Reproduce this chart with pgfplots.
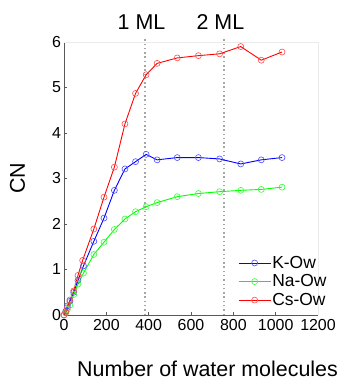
\documentclass[border=0pt]{standalone}
\usepackage{fontspec}
\setmainfont{Liberation Sans}
\usepackage{pgfplots}
\pgfplotsset{compat=1.18}
\usepackage{pgfplotstable}
\pgfplotstableread{
x y
0 0
8 0.08
16 0.20
28 0.30
46 0.50
66 0.76
92 1.08
141 1.62
189 2.13
238 2.74
288 3.21
338 3.37
388 3.53
440 3.41
535 3.46
635 3.46
735 3.43
835 3.32
932 3.41
1030 3.46
}\Kdata
\pgfplotstableread{
x y
0 0
8 0.05
16 0.12
28 0.22
46 0.45
66 0.68
92 0.92
141 1.33
189 1.60
238 1.88
288 2.11
338 2.27
388 2.38
440 2.47
535 2.60
635 2.67
735 2.71
835 2.74
932 2.76
1030 2.81
}\Nadata
\pgfplotstableread{
x y
0 0
8 0.05
16 0.16
28 0.33
46 0.53
66 0.87
88 1.20
141 1.89
189 2.59
238 3.25
288 4.20
338 4.87
388 5.28
440 5.53
535 5.65
635 5.70
735 5.74
835 5.90
932 5.60
1030 5.78
}\Csdata
\begin{document}
\begin{tikzpicture}
\path[use as bounding box] (-64bp,-66bp) rectangle (285bp,315bp);
\begin{axis}[
  scale only axis,
  width=254bp, height=273bp,
  xmin=0, xmax=1200, ymin=0, ymax=6,
  xtick={0,200,...,1200}, ytick={0,1,...,6},
  axis lines=left,
  axis line style={-, black!65, line width=0.6pt},
  tick style={black!65, line width=0.6pt},
  tick align=inside,
  major tick length=3bp,
  clip=false,
  /pgf/number format/assume math mode=true,
  /pgf/number format/1000 sep={},
  tick label style={font=\fontsize{16}{16}\selectfont},
  xticklabel style={yshift=-0.5bp},
  yticklabel style={xshift=0.5bp},
  xlabel={Number of water molecules},
  ylabel={CN},
  label style={font=\fontsize{21.5}{21.5}\selectfont},
  xlabel style={at={(axis description cs:0.565,-0.2253)}, anchor=base},
  ylabel style={at={(axis description cs:-0.183,0.5)}, anchor=center},
  legend style={draw=none, fill=none, at={(axis description cs:0.685,0.2207)}, anchor=north west,
    font=\fontsize{17.5}{17.5}\selectfont, row sep=2.5bp, inner sep=0bp,
    nodes={inner sep=1.2bp}},
  legend cell align=left,
  legend image code/.code={\draw[mark repeat=2,mark phase=2] plot coordinates {(0bp,0bp) (16bp,0bp) (32bp,0bp)};},
]
\draw[black!8] (rel axis cs:0,1) -- (rel axis cs:1,1) -- (rel axis cs:1,0);
\draw[gray!70, line width=1.6pt, dash pattern=on 1.5pt off 2.8pt] (axis cs:384,0) -- (axis cs:384,6.1);
\draw[gray!70, line width=1.6pt, dash pattern=on 1.5pt off 2.8pt] (axis cs:757,0) -- (axis cs:757,6.1);
\node[anchor=base, font=\fontsize{21.5}{21.5}\selectfont] at (axis cs:366,6.28) {1 ML};
\node[anchor=base, font=\fontsize{21.5}{21.5}\selectfont] at (axis cs:739,6.28) {2 ML};
\addplot[blue, line width=0.9pt, mark=o, mark size=3bp, mark options={blue!70, line width=0.6pt}] table[x=x,y=y] {\Kdata};
\addlegendentry{K-Ow}
\addplot[green, line width=0.9pt, mark=o, mark size=3bp, mark options={green!80, line width=0.6pt}] table[x=x,y=y] {\Nadata};
\addlegendentry{Na-Ow}
\addplot[red, line width=0.9pt, mark=o, mark size=3bp, mark options={red!70, line width=0.6pt}] table[x=x,y=y] {\Csdata};
\addlegendentry{Cs-Ow}
\end{axis}
\end{tikzpicture}
\end{document}
